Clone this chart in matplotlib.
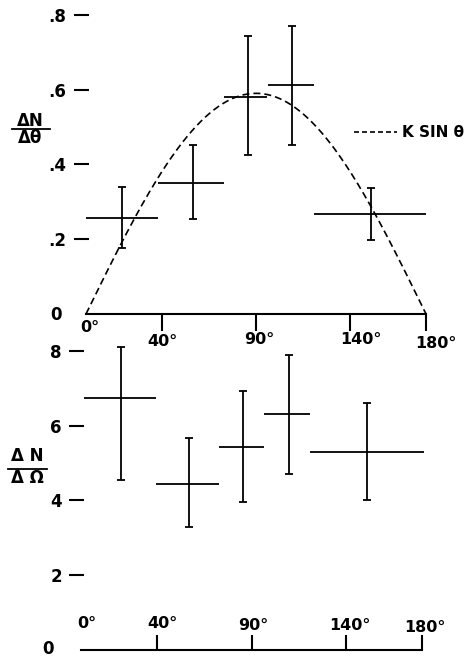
import matplotlib
matplotlib.use("Agg")
import matplotlib.pyplot as plt
import matplotlib.transforms as mtransforms
import numpy as np
from matplotlib.lines import Line2D

plt.rcParams["font.family"] = "DejaVu Sans"
plt.rcParams["font.weight"] = "bold"

# upper plot: dN/dtheta per angular bin (degrees)
theta_lo_top = [0, 38, 73, 96.5, 120.5]
theta_hi_top = [38, 73, 96, 120.5, 180]
theta_c_top = [19, 56.5, 85.5, 109, 151]
dn_dtheta = [0.256, 0.351, 0.579, 0.611, 0.268]
dn_dtheta_hi = [0.339, 0.452, 0.742, 0.769, 0.337]
dn_dtheta_lo = [0.176, 0.255, 0.424, 0.451, 0.199]
K = 0.59

# lower plot: dN/dOmega
theta_lo_bot = [1.5, 39.5, 73, 96.5, 121]
theta_hi_bot = [39.5, 73, 96.5, 121, 181]
theta_c_bot = [21, 57, 85.5, 109.5, 151]
dn_domega = [6.75, 4.44, 5.44, 6.31, 5.30]
dn_domega_hi = [8.11, 5.67, 6.93, 7.90, 6.60]
dn_domega_lo = [4.54, 3.29, 3.96, 4.71, 4.01]

angle_ticks = [0, 40, 90, 140, 180]
angle_labels = ["0°", "40°", "90°", "140°", "180°"]
top_yticks = [0, 0.2, 0.4, 0.6, 0.8]
top_ylabels = ["0", ".2", ".4", ".6", ".8"]
bot_yticks = [0, 2, 4, 6, 8]
bot_ylabels = ["0", "2", "4", "6", "8"]

W, H = 469, 657
fig = plt.figure(figsize=(W / 100, H / 100), dpi=100)

ax1 = fig.add_axes([86 / W, 1 - 314 / H, 340 / W, 299.2 / H])
ax2 = fig.add_axes([81 / W, 1 - 650 / H, 341.3 / W, 299.2 / H])


def draw_crosses(ax, lo, hi, c, v, vhi, vlo):
    ax.hlines(v, lo, hi, color="k", lw=1.3, clip_on=False)
    yerr = [np.subtract(v, vlo), np.subtract(vhi, v)]
    ax.errorbar(c, v, yerr=yerr, fmt="none", ecolor="k", elinewidth=1.3,
                capsize=2.6, capthick=1.3, clip_on=False)


def style_axis(ax, ylim, yticks, ylabels, inward, xdir, xlen, zero_shift):
    ax.patch.set_visible(False)
    ax.set_xlim(0, 180)
    ax.set_ylim(*ylim)
    for s in ("top", "right", "left"):
        ax.spines[s].set_visible(False)
    ax.spines["left"].set_position(("outward", -inward))
    ax.spines["bottom"].set_linewidth(1.5)
    ax.set_yticks(yticks)
    ax.set_yticklabels(ylabels, fontsize=12, fontweight="bold")
    ax.tick_params(axis="y", length=11, width=1.5, pad=5)
    ax.yaxis.get_major_ticks()[0].tick1line.set_visible(False)
    # the "0" sits a little apart from the other labels
    lbl = ax.get_yticklabels()[0]
    dx, dy = zero_shift
    lbl.set_transform(lbl.get_transform() + mtransforms.ScaledTranslation(
        dx / 100, dy / 100, fig.dpi_scale_trans))
    ax.set_xticks(angle_ticks[1:])
    ax.set_xticklabels([])
    ax.tick_params(axis="x", direction=xdir, length=xlen, width=1.5)


# ---- upper panel
style_axis(ax1, (0, 0.8), top_yticks, top_ylabels, 1.8, "out", 12, (-5, 1))
draw_crosses(ax1, theta_lo_top, theta_hi_top, theta_c_top,
             dn_dtheta, dn_dtheta_hi, dn_dtheta_lo)
th = np.linspace(0, 180, 300)
ax1.plot(th, K * np.sin(np.radians(th)), color="k", lw=1.2,
         ls=(0, (4.2, 2.4)), clip_on=False)

key = Line2D([], [], color="k", lw=1.2, ls=(0, (3.0, 1.8)))
ax1.legend([key], ["K SIN θ"], loc="center left",
           bbox_to_anchor=(0.788, 0.605), frameon=False, fontsize=11,
           handlelength=2.8, handletextpad=0.35, borderpad=0,
           borderaxespad=0)

top_lbl_off = [(4, -13), (1, -27), (3, -26), (10, -26), (10, -30)]
for t, s, (dx, dy) in zip(angle_ticks, angle_labels, top_lbl_off):
    ax1.annotate(s, xy=(t, 0), xytext=(dx, dy), textcoords="offset pixels",
                 ha="center", va="center", fontsize=11.5,
                 annotation_clip=False)

# ---- lower panel
style_axis(ax2, (0, 8), bot_yticks, bot_ylabels, 2.2, "in", 11, (-8, 3))
draw_crosses(ax2, theta_lo_bot, theta_hi_bot, theta_c_bot,
             dn_domega, dn_domega_hi, dn_domega_lo)

bot_lbl_off = [(6, 27), (6, 27), (2, 25), (3, 25), (3, 22)]
for t, s, (dx, dy) in zip(angle_ticks, angle_labels, bot_lbl_off):
    ax2.annotate(s, xy=(t, 0), xytext=(dx, dy), textcoords="offset pixels",
                 ha="center", va="center", fontsize=11.5,
                 annotation_clip=False)


# ---- fraction-style y labels
def frac_label(xc, y_num, y_line, y_den, x0, x1, num, den):
    fig.text(xc / W, 1 - y_num / H, num, ha="center", va="center",
             fontsize=12, fontweight="bold")
    fig.text(xc / W, 1 - y_den / H, den, ha="center", va="center",
             fontsize=12, fontweight="bold")
    fig.add_artist(Line2D([x0 / W, x1 / W], [1 - y_line / H] * 2,
                          transform=fig.transFigure, color="k", lw=1.3))


frac_label(30, 121, 129, 138, 12, 50, "ΔN", "Δθ")
frac_label(27, 456, 469, 478, 8, 47, "Δ N", "Δ Ω")

fig.savefig("out.png", dpi=100)
